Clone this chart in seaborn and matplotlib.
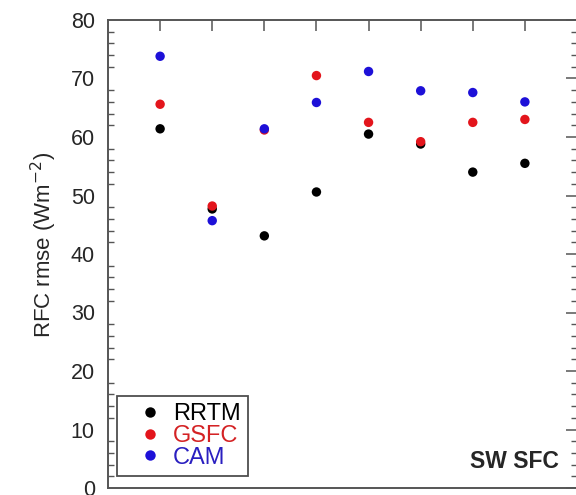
import matplotlib
matplotlib.use("Agg")
import matplotlib.pyplot as plt
from matplotlib.ticker import MultipleLocator, NullFormatter
from matplotlib.lines import Line2D
import seaborn as sns
import pandas as pd

# data
positions = [1, 2, 3, 4, 5, 6, 7, 8]
rrtm = [61.4, 47.7, 43.1, 50.6, 60.5, 58.8, 54.0, 55.5]
gsfc = [65.6, 48.2, 61.2, 70.5, 62.5, 59.2, 62.5, 63.0]
cam = [73.8, 45.7, 61.4, 65.9, 71.2, 67.9, 67.6, 66.0]
series_names = ["RRTM", "GSFC", "CAM"]
colors = ["#000000", "#e3151c", "#1d10d8"]
text_colors = ["#000000", "#d42224", "#2a1fc0"]
y_ticks = [0, 10, 20, 30, 40, 50, 60, 70, 80]

sns.set_style("white")
plt.rcParams["font.family"] = ["Liberation Sans", "DejaVu Sans"]

df = pd.DataFrame({
    "x": positions * 3,
    "y": rrtm + gsfc + cam,
    "model": sum([[n] * len(positions) for n in series_names], []),
})

fig = plt.figure(figsize=(5.76, 4.95), dpi=100)
ax = fig.add_axes([108 / 576, 1 - 488 / 495, (577 - 108) / 576, (488 - 20) / 495])

sns.scatterplot(data=df, x="x", y="y", hue="model", hue_order=series_names,
                palette=colors, s=46, edgecolor="none", linewidth=0,
                legend=False, ax=ax, zorder=3)

ax.set_xlim(0, 9)
ax.set_ylim(0, 80)
ax.set_xticks(positions)
ax.xaxis.set_major_formatter(NullFormatter())
ax.set_yticks(y_ticks)
ax.yaxis.set_minor_locator(MultipleLocator(2))
ax.set_xlabel("")
ax.set_ylabel("RFC rmse (Wm$^{-2}$)", fontsize=16)
ax.yaxis.set_label_coords(-0.104, 0.52)

ax.tick_params(axis="both", which="major", direction="in", length=8, width=1.1,
               color="#555555", top=True, right=True, labelsize=15.5, pad=9.5)
ax.tick_params(axis="y", which="minor", direction="in", length=4, width=1.0,
               color="#555555", right=True, left=True)
for sp in ax.spines.values():
    sp.set_color("#555555")
    sp.set_linewidth(1.4)

handles = [Line2D([0], [0], marker="o", linestyle="none", markersize=7.5,
                  markerfacecolor=c, markeredgecolor="none") for c in colors]
leg = ax.legend(handles, series_names, loc="lower left", bbox_to_anchor=(0.019, 0.026),
                fontsize=17, frameon=True, fancybox=False, handletextpad=-0.12,
                borderpad=0.3, labelspacing=-0.01, handlelength=2.2,
                borderaxespad=0)
leg.get_frame().set_edgecolor("#222222")
leg.get_frame().set_linewidth(1.3)
for t, c in zip(leg.get_texts(), text_colors):
    t.set_color(c)

ax.text(0.962, 0.033, "SW SFC", transform=ax.transAxes, ha="right", va="bottom",
        fontsize=16.5, fontweight="bold")

fig.savefig("out.png", dpi=100)
